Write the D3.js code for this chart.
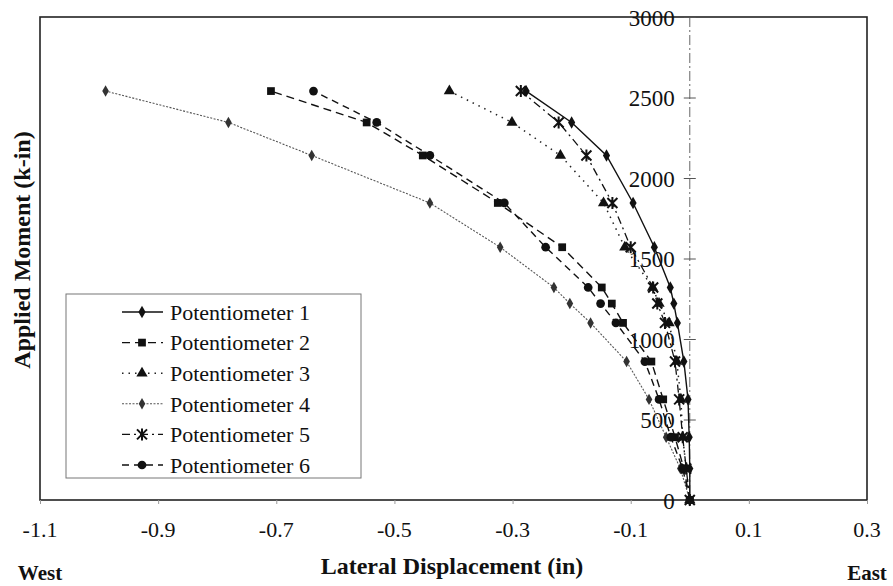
<!DOCTYPE html>
<html>
<head>
<meta charset="utf-8">
<script src="https://cdn.jsdelivr.net/npm/d3@7"></script>
<style>
  html, body { margin: 0; padding: 0; background: #fff; }
  svg { display: block; }
  text { font-family: "Liberation Serif", "Times New Roman", serif; fill: #111; }
</style>
</head>
<body>
<svg id="chart" width="893" height="586"></svg>
<script>
// Applied moment load steps (k-in), shared by every potentiometer
const moments = [0, 195, 390, 625, 860, 1100, 1220, 1320, 1570, 1845, 2140, 2345, 2540];

// Lateral displacement (in) at each load step, one array per potentiometer
const pot1 = [0, 0, -0.001, -0.003, -0.010, -0.021, -0.027, -0.033, -0.060, -0.096, -0.141, -0.200, -0.277];
const pot2 = [0, -0.010, -0.025, -0.045, -0.065, -0.113, -0.132, -0.149, -0.216, -0.325, -0.452, -0.547, -0.709];
const pot3 = [0, -0.006, -0.012, -0.015, -0.022, -0.035, -0.052, -0.063, -0.110, -0.146, -0.219, -0.301, -0.407];
const pot4 = [0, -0.016, -0.040, -0.069, -0.107, -0.168, -0.203, -0.230, -0.321, -0.440, -0.640, -0.781, -0.989];
const pot5 = [0, -0.006, -0.012, -0.018, -0.025, -0.042, -0.055, -0.062, -0.100, -0.131, -0.175, -0.222, -0.286];
const pot6 = [0, -0.012, -0.032, -0.052, -0.076, -0.125, -0.151, -0.172, -0.244, -0.314, -0.440, -0.530, -0.637];

const seriesNames = ["Potentiometer 1", "Potentiometer 2", "Potentiometer 3",
                     "Potentiometer 4", "Potentiometer 5", "Potentiometer 6"];
const seriesValues = [pot1, pot2, pot3, pot4, pot5, pot6];

// Axis ticks
const xTicks = [-1.1, -0.9, -0.7, -0.5, -0.3, -0.1, 0.1, 0.3];
const yTicks = [0, 500, 1000, 1500, 2000, 2500, 3000];

// Per-series drawing styles
const styles = [
  { stroke: "#111", width: 1.4, dash: null,      marker: "diamond",  size: 44, fill: "#111" },
  { stroke: "#111", width: 1.4, dash: "8,5",     marker: "square",   size: 60, fill: "#111" },
  { stroke: "#222", width: 1.5, dash: "1.5,5",   marker: "triangle", size: 55, fill: "#111" },
  { stroke: "#555", width: 1.1, dash: "2,1.5",   marker: "diamond",  size: 38, fill: "#333" },
  { stroke: "#111", width: 1.3, dash: "8,4,2,4", marker: "star",     size: 10, fill: "#111" },
  { stroke: "#111", width: 1.4, dash: "7,5",     marker: "circle",   size: 60, fill: "#111" }
];

const svg = d3.select("#chart");
const plotLeft = 40, plotRight = 867, plotTop = 17, plotBottom = 500;

const x = d3.scaleLinear().domain([-1.1, 0.3]).range([plotLeft, plotRight]);
const y = d3.scaleLinear().domain([0, 3000]).range([plotBottom, plotTop]);

const fmtX = d => d3.format(".1f")(d).replace("\u2212", "-");

// Plot frame
svg.append("rect")
  .attr("x", plotLeft).attr("y", plotTop)
  .attr("width", plotRight - plotLeft).attr("height", plotBottom - plotTop)
  .attr("fill", "none").attr("stroke", "#222").attr("stroke-width", 1.6);

// Small ticks under the bottom frame
const xAxis = d3.axisBottom(x).tickValues(xTicks).tickSize(4).tickFormat("");
svg.append("g")
  .attr("transform", `translate(0,${plotBottom})`)
  .call(xAxis)
  .call(g => g.select(".domain").remove())
  .call(g => g.selectAll(".tick line").attr("stroke", "#999"));

// X tick labels
svg.append("g").selectAll("text")
  .data(xTicks).join("text")
  .attr("x", d => x(d)).attr("y", 537)
  .attr("text-anchor", "middle")
  .attr("font-size", 22)
  .text(fmtX);

// Vertical zero axis (dash-dot) with crossing ticks and labels
const x0 = x(0);
svg.append("line")
  .attr("x1", x0).attr("x2", x0).attr("y1", plotTop).attr("y2", plotBottom)
  .attr("stroke", "#666").attr("stroke-width", 1)
  .attr("stroke-dasharray", "10,3,2,3");

const yAxis = d3.axisLeft(y).tickValues(yTicks).tickSize(0).tickFormat("");
const yg = svg.append("g").attr("transform", `translate(${x0},0)`).call(yAxis);
yg.select(".domain").remove();
yg.selectAll(".tick").append("line")
  .attr("x1", -6).attr("x2", 6)
  .attr("stroke", "#555").attr("stroke-width", 1);
yg.selectAll(".tick").append("text")
  .attr("x", -15).attr("dy", "0.35em")
  .attr("text-anchor", "end")
  .attr("font-size", 23)
  .style("fill", "#111")
  .text(d => d);

// Marker drawing helper
function drawMarker(sel, st) {
  if (st.marker === "star") {
    const s = st.size / 2;
    sel.append("path")
      .attr("d", `M${-s},${-s}L${s},${s}M${-s},${s}L${s},${-s}M0,${-s - 1}L0,${s + 1}`)
      .attr("fill", "none").attr("stroke", st.fill).attr("stroke-width", 2);
  } else {
    const type = {
      diamond: d3.symbolDiamond, square: d3.symbolSquare,
      triangle: d3.symbolTriangle, circle: d3.symbolCircle
    }[st.marker];
    sel.append("path")
      .attr("d", d3.symbol().type(type).size(st.size)())
      .attr("fill", st.fill);
  }
}

const line = d3.line()
  .x(d => x(d.v))
  .y(d => y(d.m));

// Series lines and markers
seriesValues.forEach((vals, i) => {
  const st = styles[i];
  const pts = vals.map((v, k) => ({ v, m: moments[k] }));
  svg.append("path")
    .datum(pts)
    .attr("d", line)
    .attr("fill", "none")
    .attr("stroke", st.stroke)
    .attr("stroke-width", st.width)
    .attr("stroke-dasharray", st.dash);
  svg.append("g").selectAll("g")
    .data(pts).join("g")
    .attr("transform", d => `translate(${x(d.v)},${y(d.m)})`)
    .each(function () { drawMarker(d3.select(this), st); });
});

// Legend
const lg = svg.append("g");
lg.append("rect")
  .attr("x", 66).attr("y", 294).attr("width", 295).attr("height", 184)
  .attr("fill", "#fff").attr("stroke", "#777").attr("stroke-width", 1);
seriesNames.forEach((name, i) => {
  const st = styles[i];
  const cy = 312 + i * 30.6;
  lg.append("line")
    .attr("x1", 122).attr("x2", 163).attr("y1", cy).attr("y2", cy)
    .attr("stroke", st.stroke).attr("stroke-width", st.width)
    .attr("stroke-dasharray", st.dash);
  drawMarker(lg.append("g").attr("transform", `translate(142,${cy})`), st);
  lg.append("text")
    .attr("x", 170).attr("y", cy).attr("dy", "0.35em")
    .attr("font-size", 22)
    .text(name);
});

// Axis titles
svg.append("text")
  .attr("transform", "translate(30,250) rotate(-90)")
  .attr("text-anchor", "middle")
  .attr("font-size", 24).attr("font-weight", "bold")
  .text("Applied Moment (k-in)");

svg.append("text")
  .attr("x", 452).attr("y", 574)
  .attr("text-anchor", "middle")
  .attr("font-size", 24).attr("font-weight", "bold")
  .text("Lateral Displacement (in)");

svg.append("text")
  .attr("x", x(-1.1)).attr("y", 580)
  .attr("text-anchor", "middle")
  .attr("font-size", 21).attr("font-weight", "bold")
  .text("West");

svg.append("text")
  .attr("x", x(0.3)).attr("y", 580)
  .attr("text-anchor", "middle")
  .attr("font-size", 21).attr("font-weight", "bold")
  .text("East");
</script>
</body>
</html>
